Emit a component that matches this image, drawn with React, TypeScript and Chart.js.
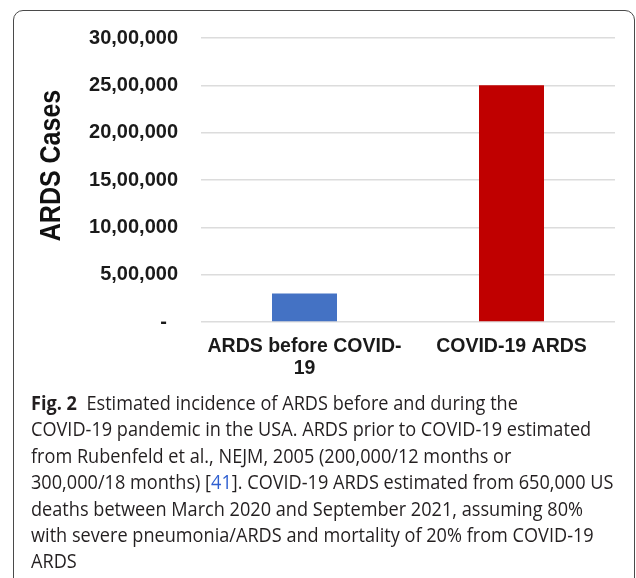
import React, { useEffect, useRef } from "react";
import { Chart, registerables } from "chart.js";

Chart.register(...registerables);

const categories: (string | string[])[] = [["ARDS before COVID-", "19"], "COVID-19 ARDS"];
const values = [300000, 2500000];
const barColors = ["#4472C4", "#C00000"];
const yTickValues = [0, 500000, 1000000, 1500000, 2000000, 2500000, 3000000];
const yTickLabels = ["-  ", "5,00,000", "10,00,000", "15,00,000", "20,00,000", "25,00,000", "30,00,000"];
const yAxisTitle = "ARDS Cases";
const captionLine1 = "Estimated incidence of ARDS before and during the";
const captionLines = [
  "COVID-19 pandemic in the USA. ARDS prior to COVID-19 estimated",
  "from Rubenfeld et al., NEJM, 2005 (200,000/12 months or",
];
const captionLine4a = "300,000/18 months) [";
const captionRef = "41";
const captionLine4b = "]. COVID-19 ARDS estimated from 650,000 US";
const captionRest = [
  "deaths between March 2020 and September 2021, assuming 80%",
  "with severe pneumonia/ARDS and mortality of 20% from COVID-19",
  "ARDS",
];

const FONT = "'Liberation Sans', Arial, sans-serif";

const yTitlePlugin = {
  id: "yTitleStretched",
  afterDraw(chart: any) {
    const ctx = chart.ctx;
    ctx.save();
    ctx.translate(52, 165.5);
    ctx.rotate(-Math.PI / 2);
    ctx.scale(1, 1.15);
    ctx.font = `bold 25px ${FONT}`;
    ctx.fillStyle = "#111";
    ctx.textAlign = "center";
    ctx.textBaseline = "middle";
    ctx.fillText(yAxisTitle, 0, 0);
    ctx.restore();
  },
};

export default function App() {
  const ref = useRef<HTMLCanvasElement | null>(null);

  useEffect(() => {
    if (!ref.current) return;
    const chart = new Chart(ref.current, {
      type: "bar",
      data: {
        labels: categories,
        datasets: [
          {
            data: values,
            backgroundColor: barColors,
            borderWidth: 0,
            barPercentage: 0.314,
            categoryPercentage: 1,
          },
        ],
      },
      options: {
        responsive: false,
        animation: false,
        layout: { padding: { left: 35, right: 21, top: 38, bottom: 0 } },
        plugins: { legend: { display: false }, tooltip: { enabled: false } },
        scales: {
          x: {
            grid: { display: false },
            border: { display: false },
            ticks: {
              font: { family: FONT, weight: "bold", size: 19.5, lineHeight: 1.12 },
              color: "#1a1a1a",
              padding: 6,
              maxRotation: 0,
              autoSkip: false,
            },
            afterFit: (s: any) => {
              s.height = 68;
            },
          },
          y: {
            min: 0,
            max: 3000000,
            afterBuildTicks: (s: any) => {
              s.ticks = yTickValues.map((v) => ({ value: v }));
            },
            ticks: {
              callback: (_v: any, i: number) => yTickLabels[i],
              font: { family: FONT, weight: "bold", size: 20 },
              color: "#1a1a1a",
              padding: 23,
            },
            grid: { color: "#dcdcdc", drawTicks: false, lineWidth: 1.5 },
            border: { display: false },
            afterFit: (s: any) => {
              s.width = 166;
            },
          },
        },
      },
      plugins: [yTitlePlugin],
    });
    return () => chart.destroy();
  }, []);

  return (
    <div style={{ position: "fixed", left: 0, top: 0, width: 636, height: 578, overflow: "hidden", background: "#fff" }}>
      <div
        style={{
          position: "absolute",
          left: 13,
          top: 10,
          width: 622,
          height: 620,
          border: "1.5px solid #4a4a4a",
          borderRadius: 10,
          boxSizing: "border-box",
        }}
      />
      <canvas ref={ref} width={636} height={390} style={{ position: "absolute", left: 0, top: 0, width: 636, height: 390 }} />
      <div
        style={{
          position: "absolute",
          left: 31,
          top: 390,
          width: 660,
          fontFamily: "'Open Sans', 'Noto Sans', sans-serif",
          fontSize: 19.5,
          lineHeight: "26.4px",
          color: "#231f20",
          whiteSpace: "nowrap",
          transform: "scaleX(0.93)",
          transformOrigin: "0 0",
        }}
      >
        <div>
          <b>Fig. 2</b>&nbsp; {captionLine1}
        </div>
        {captionLines.map((l, i) => (
          <div key={i}>{l}</div>
        ))}
        <div>
          {captionLine4a}
          <span style={{ color: "#2f5fd0" }}>{captionRef}</span>
          {captionLine4b}
        </div>
        {captionRest.map((l, i) => (
          <div key={i}>{l}</div>
        ))}
      </div>
    </div>
  );
}
